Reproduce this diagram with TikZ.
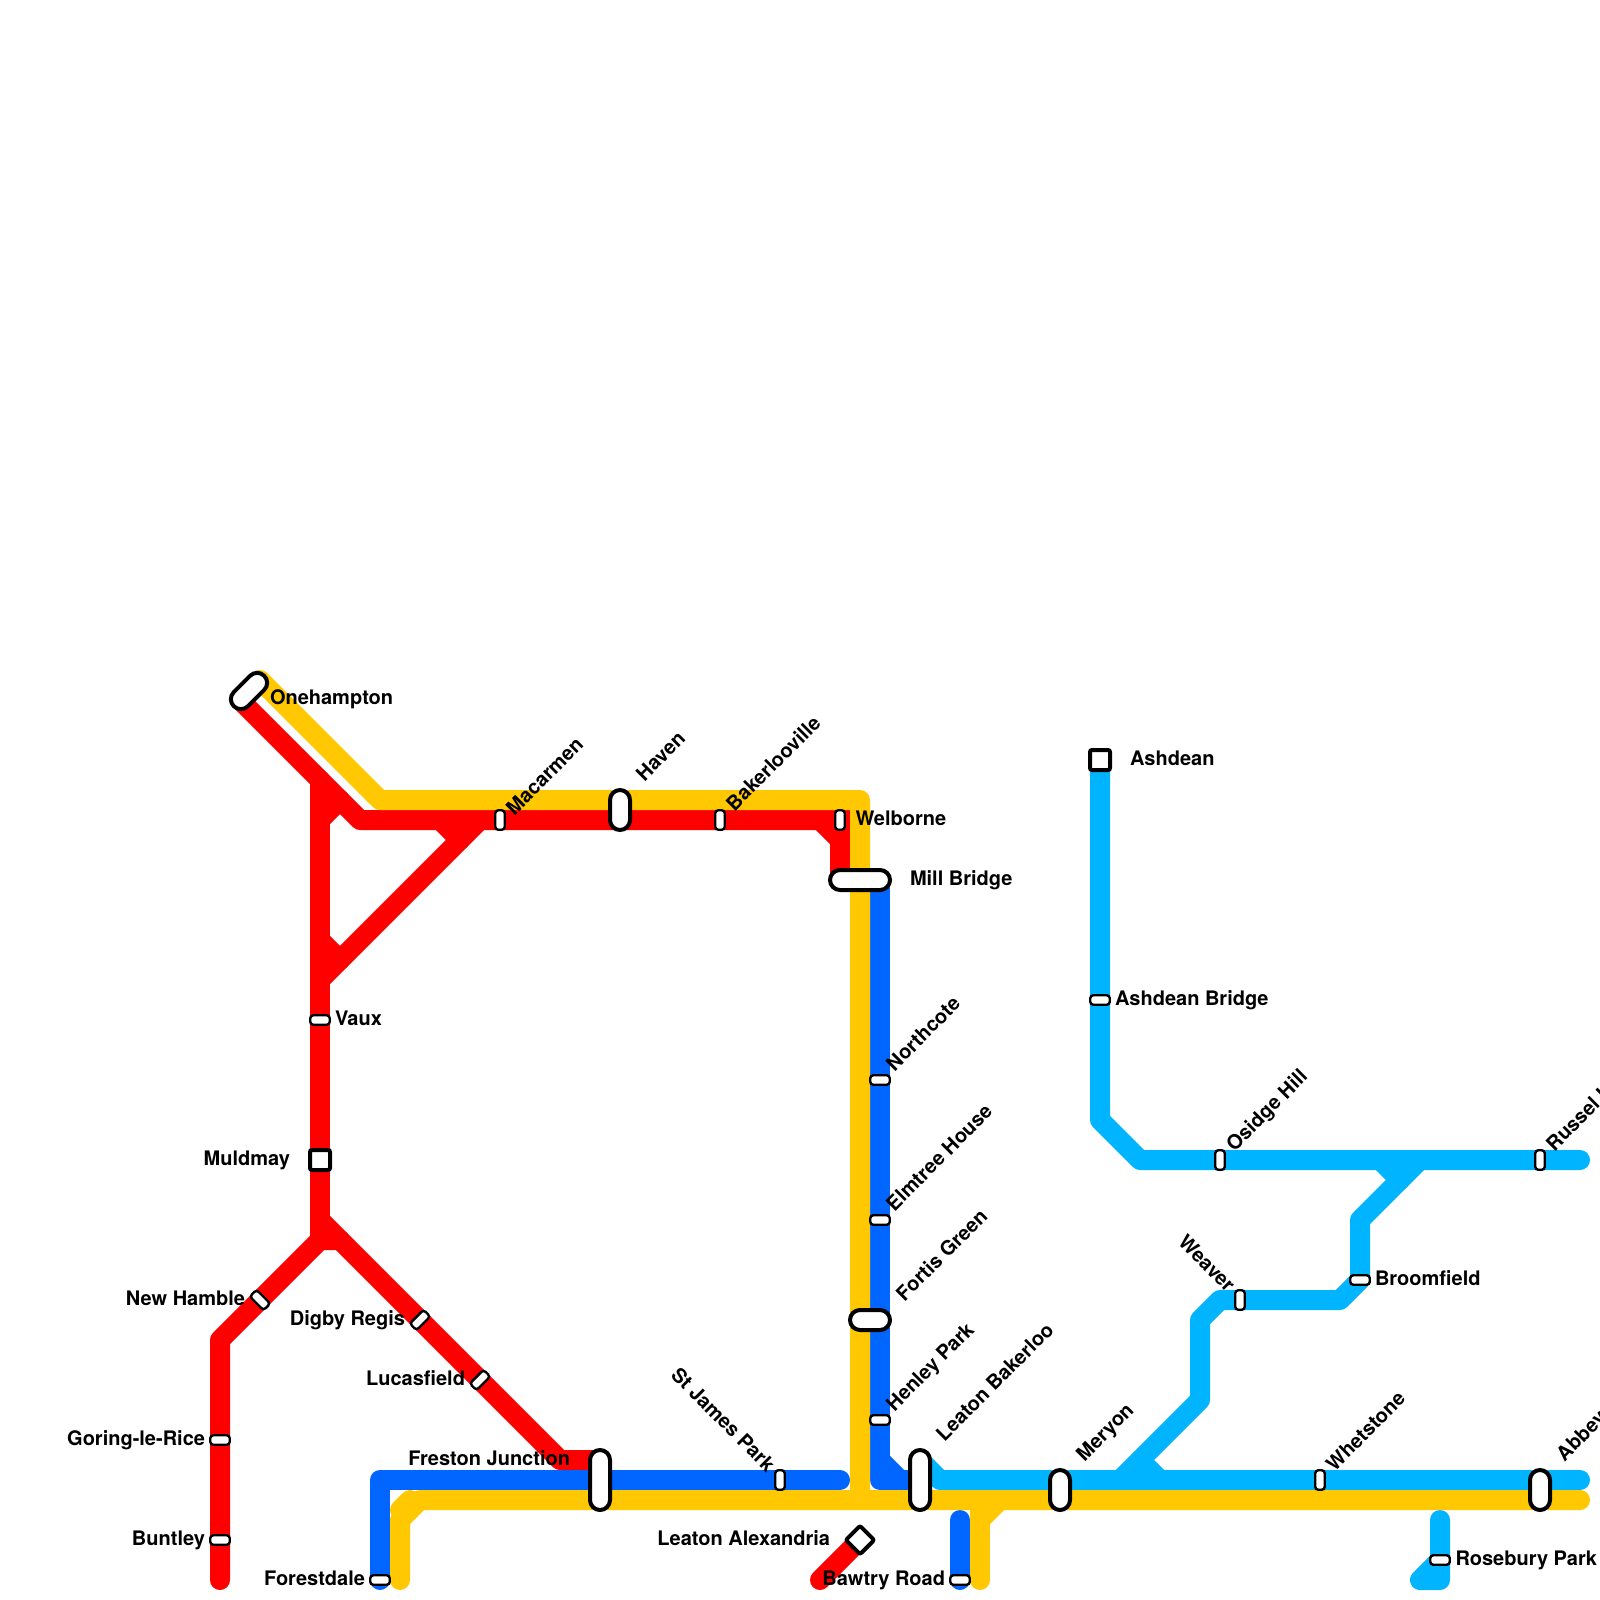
\documentclass[tikz,border=0pt]{standalone}
\usepackage{fontspec}
\setmainfont{TeX Gyre Heros}
\tikzset{
  x=1pt,y=-1pt,
  trk/.style={line width=20pt,line cap=round,line join=round},
  red/.style={trk,draw=cRed},
  blu/.style={trk,draw=cBlue},
  yel/.style={trk,draw=cYel},
  lbl/.style={trk,draw=cLight},
  sm/.style={draw=black,fill=white,line width=2.4pt,rounded corners=3pt,minimum width=9.5pt,minimum height=19.5pt,inner sep=0pt,outer sep=0pt},
  smh/.style={sm,rotate=90},
  big/.style={draw=black,fill=white,line width=4pt,rounded corners=10pt,minimum width=20pt,inner sep=0pt,outer sep=0pt},
  sq/.style={draw=black,fill=white,line width=4pt,rounded corners=2pt,minimum width=20pt,minimum height=20pt,inner sep=0pt,outer sep=0pt},
  txt/.style={font=\fontsize{20}{24}\selectfont\bfseries,inner sep=0pt,outer sep=0pt,text=black},
  le/.style={txt,anchor=base west},
  ri/.style={txt,anchor=base east},
  up/.style={txt,anchor=base west,rotate=45},
  dn/.style={txt,anchor=base east,rotate=-45},
}
\definecolor{cRed}{HTML}{FF0000}
\definecolor{cBlue}{HTML}{0066FF}
\definecolor{cYel}{HTML}{FFC800}
\definecolor{cLight}{HTML}{00B4FF}
\begin{document}
\begin{tikzpicture}
\useasboundingbox (0,0) rectangle (1600,1600);
% red
\draw[red] (240,700) -- (360,820) -- (820,820);
\draw[red,line join=miter] (820,820) -- (840,820) -- (840,880);
\draw[red] (820,820) -- (840,840);
\draw[red] (320,780) -- (320,1240);
\draw[red] (320,820) -- (340,800);
\draw[red] (320,940) -- (340,960);
\draw[red] (320,980) -- (480,820);
\draw[red] (440,820) -- (460,840);
\draw[red] (220,1580) -- (220,1340) -- (320,1240) -- (340,1240);
\draw[red] (320,1220) -- (560,1460) -- (600,1460);
\draw[red] (820,1580) -- (860,1540);
% blue
\draw[blu] (380,1580) -- (380,1480) -- (840,1480);
\draw[blu] (880,880) -- (880,1480) -- (920,1480);
\draw[blu] (880,1460) -- (900,1480);
\draw[blu] (960,1520) -- (960,1580);
% light blue
\draw[lbl] (920,1460) -- (940,1480) -- (1580,1480);
\draw[lbl] (1100,760) -- (1100,1120) -- (1140,1160) -- (1580,1160);
\draw[lbl] (1120,1480) -- (1200,1400) -- (1200,1320) -- (1220,1300) -- (1340,1300) -- (1360,1280) -- (1360,1220) -- (1420,1160);
\draw[lbl] (1140,1460) -- (1160,1480);
\draw[lbl] (1380,1160) -- (1400,1180);
\draw[lbl] (1440,1520) -- (1440,1580) -- (1420,1580) -- (1440,1560);
% yellow
\draw[yel] (260,680) -- (380,800) -- (860,800) -- (860,1500);
\draw[yel] (400,1580) -- (400,1520) -- (420,1500) -- (1580,1500);
\draw[yel] (400,1510) -- (410,1500);
\draw[yel] (980,1580) -- (980,1500);
\draw[yel] (980,1520) -- (1000,1500);
% stations
\node[big,minimum height=43pt,rotate=-45] (onehampton) at (249,691) {};
\node[big,minimum height=40pt] (haven) at (620,810) {};
\node[big,minimum height=60pt,rotate=90] (millbridge) at (860,880) {};
\node[big,minimum height=40pt,rotate=90] (fortis) at (870,1320) {};
\node[big,minimum height=60pt] (freston) at (600,1480) {};
\node[big,minimum height=60pt] (leatonb) at (920,1480) {};
\node[big,minimum height=40pt] (meryon) at (1060,1490) {};
\node[big,minimum height=40pt] (abbey) at (1540,1490) {};
\node[sq] (muldmay) at (320,1160) {};
\node[sq] (ashdean) at (1100,760) {};
\node[sq,rotate=45] (leatona) at (860,1540) {};
\node[sm] (macarmen) at (500,820) {};
\node[sm] (bakerloo) at (720,820) {};
\node[sm] (welborne) at (840,820) {};
\node[sm] (stjames) at (780,1480) {};
\node[sm] (osidge) at (1220,1160) {};
\node[sm] (russel) at (1540,1160) {};
\node[sm] (weaver) at (1240,1300) {};
\node[sm] (whetstone) at (1320,1480) {};
\node[smh] (vaux) at (320,1020) {};
\node[smh] (goring) at (220,1440) {};
\node[smh] (buntley) at (220,1540) {};
\node[smh] (forestdale) at (380,1580) {};
\node[smh] (bawtry) at (960,1580) {};
\node[smh] (northcote) at (880,1080) {};
\node[smh] (elmtree) at (880,1220) {};
\node[smh] (henley) at (880,1420) {};
\node[smh] (ashbridge) at (1100,1000) {};
\node[smh] (broomfield) at (1360,1280) {};
\node[smh] (rosebury) at (1440,1560) {};
\node[sm,rotate=45] (newhamble) at (260,1300) {};
\node[sm,rotate=-45] (digby) at (420,1320) {};
\node[sm,rotate=-45] (lucasfield) at (480,1380) {};
% labels
\node[le] (t1) at (270,704) {Onehampton};
\node[le] (t2) at (1130,765) {Ashdean};
\node[le] (t3) at (910,885) {Mill Bridge};
\node[le] (t4) at (855.5,825) {Welborne};
\node[le] (t5) at (1115,1005) {Ashdean Bridge};
\node[le] (t6) at (335,1025) {Vaux};
\node[le] (t7) at (1375,1285) {Broomfield};
\node[le] (t8) at (1455.5,1565) {Rosebury Park};
\node[ri] (t9) at (290,1165) {Muldmay};
\node[ri] (t10) at (245,1305) {New Hamble};
\node[ri] (t11) at (205,1445) {Goring-le-Rice};
\node[ri] (t12) at (205,1545) {Buntley};
\node[ri] (t13) at (405,1325) {Digby Regis};
\node[ri] (t14) at (465,1385) {Lucasfield};
\node[ri] (t15) at (570,1465) {Freston Junction};
\node[ri] (t16) at (365,1585) {Forestdale};
\node[ri] (t17) at (830,1545) {Leaton Alexandria};
\node[ri] (t18) at (945,1585) {Bawtry Road};
\node[up] (u1) at (514.5,816) {Macarmen};
\node[up] (u2) at (644.5,782) {Haven};
\node[up] (u3) at (734.5,812) {Bakerlooville};
\node[up] (u4) at (894.5,1072) {Northcote};
\node[up] (u5) at (894.5,1212) {Elmtree House};
\node[up] (u6) at (904.5,1302) {Fortis Green};
\node[up] (u7) at (894.5,1412) {Henley Park};
\node[up] (u8) at (944.5,1442) {Leaton Bakerloo};
\node[up] (u9) at (1084.5,1462) {Meryon};
\node[up] (u10) at (1334.5,1472) {Whetstone};
\node[up] (u11) at (1234.5,1152) {Osidge Hill};
\node[up] (u12) at (1554.5,1152) {Russel Hill};
\node[up] (u13) at (1564.5,1462) {Abbey};
\node[dn] (d1) at (766.5,1473) {St James Park};
\node[dn] (d2) at (1226.5,1293) {Weaver};
\end{tikzpicture}
\end{document}
